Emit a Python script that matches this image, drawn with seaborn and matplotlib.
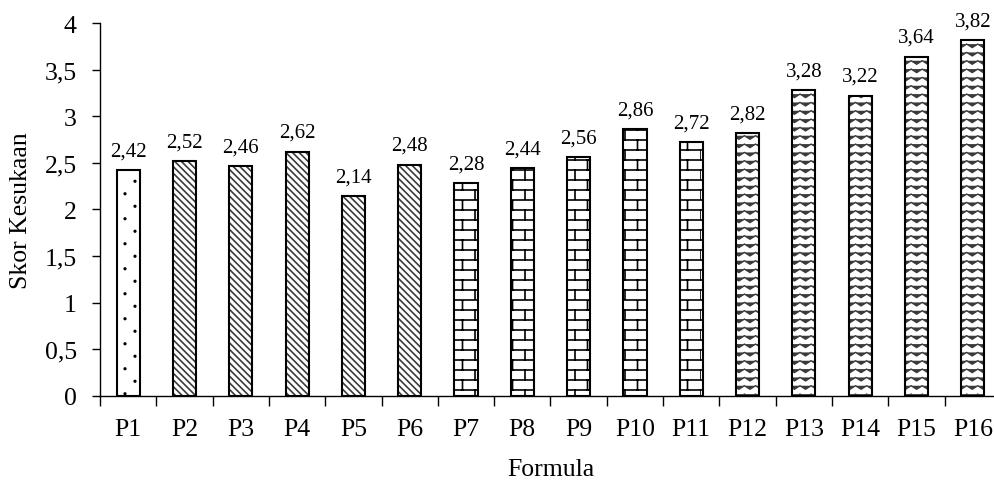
import numpy as np
import pandas as pd
import matplotlib
matplotlib.use("Agg")
import matplotlib.pyplot as plt
import matplotlib.hatch as mhatch
import matplotlib.colors as mcolors
from matplotlib.path import Path
from matplotlib.ticker import FuncFormatter, MultipleLocator, FixedLocator
import seaborn as sns

# data
formula = ["P1", "P2", "P3", "P4", "P5", "P6", "P7", "P8",
           "P9", "P10", "P11", "P12", "P13", "P14", "P15", "P16"]
scores = [2.42, 2.52, 2.46, 2.62, 2.14, 2.48, 2.28, 2.44,
          2.56, 2.86, 2.72, 2.82, 3.28, 3.22, 3.64, 3.82]


# --- custom hatch patterns: bricks ('O'), zigzag ('o'), sparse dots ('*') ---
class BrickHatch(mhatch.HatchPatternBase):
    def __init__(self, hatch, density):
        self.rows = 10 * hatch.count('O')
        self.cols = 4
        if self.rows:
            self.num_vertices = ((self.rows + 1) + self.rows * self.cols) * 2
        else:
            self.num_vertices = 0

    def set_vertices_and_codes(self, vertices, codes):
        h = 1.0 / self.rows
        w = 1.0 / self.cols
        segs = []
        for i in range(self.rows + 1):
            segs.append([(0.0, i * h), (1.0, i * h)])
        for i in range(self.rows):
            off = (i % 2) * w / 2
            for j in range(self.cols):
                x = off + j * w
                segs.append([(x, i * h), (x, (i + 1) * h)])
        vertices[:] = np.array(segs).reshape(-1, 2)
        codes[0::2] = Path.MOVETO
        codes[1::2] = Path.LINETO


class ZigzagHatch(mhatch.HatchPatternBase):
    def __init__(self, hatch, density):
        self.rows = 12 * hatch.count('o')
        self.waves = 9
        self.npts = self.waves * 2 + 1
        self.num_vertices = self.rows * self.npts if self.rows else 0

    def set_vertices_and_codes(self, vertices, codes):
        xs = np.linspace(0, 1, self.npts)
        amp = 0.42 / self.rows
        k = 0
        for i in range(self.rows):
            base = (i + 0.5) / self.rows
            ys = base + np.where(np.arange(self.npts) % 2 == 0, amp / 2, -amp / 2)
            vertices[k:k + self.npts, 0] = xs
            vertices[k:k + self.npts, 1] = ys
            codes[k] = Path.MOVETO
            codes[k + 1:k + self.npts] = Path.LINETO
            k += self.npts


class DotHatch(mhatch.HatchPatternBase):
    def __init__(self, hatch, density):
        n = hatch.count('*')
        self.cols = 10 * n
        self.rows = 8 * n
        circ = Path.unit_circle()
        self.shape_vertices = circ.vertices
        self.shape_codes = circ.codes
        self.ndots = (self.cols * self.rows) // 2 if n else 0
        self.num_vertices = self.ndots * len(circ.vertices)

    def set_vertices_and_codes(self, vertices, codes):
        r = 0.009
        nv = len(self.shape_vertices)
        k = 0
        for j in range(self.rows):
            for i in range(self.cols):
                if (i + j) % 2:
                    continue
                cx = (i + 0.5) / self.cols
                cy = (j + 0.5) / self.rows
                vertices[k:k + nv] = self.shape_vertices * r + (cx, cy)
                codes[k:k + nv] = self.shape_codes
                k += nv


mhatch._hatch_types[:] = [t for t in mhatch._hatch_types
                          if t not in (mhatch.SmallCircles, mhatch.LargeCircles,
                                       mhatch.Stars)]
mhatch._hatch_types += [BrickHatch, ZigzagHatch, DotHatch]

sns.set_theme(style="white")
plt.rcParams['font.family'] = ['Liberation Serif', 'DejaVu Serif']
plt.rcParams['text.color'] = 'black'
plt.rcParams['axes.labelcolor'] = 'black'
plt.rcParams['hatch.linewidth'] = 1.1
plt.rcParams['hatch.color'] = 'black'

df = pd.DataFrame({'Formula': formula, 'Skor': scores})

fig = plt.figure(figsize=(9.95, 4.81), dpi=100)
ax = fig.add_axes([100 / 995, 84.3 / 481, 901 / 995, 372.7 / 481])

sns.barplot(data=df, x='Formula', y='Skor', color='white', saturation=1,
            edgecolor='black', linewidth=1.5, width=0.41, errorbar=None, ax=ax)

# hatch, hatch colour, hatch linewidth per bar group
styles = ([('*', 'black', 1.0)] + [('\\' * 5, '#3a3a3a', 1.2)] * 5
          + [('O', 'black', 1.2)] * 5 + [('o', '#3a3a3a', 1.0)] * 5)
for patch, (h, hc, hlw) in zip(ax.patches, styles):
    patch.set_hatch(h)
    patch._hatch_color = mcolors.to_rgba(hc)
    if hasattr(patch, 'set_hatch_linewidth'):
        patch.set_hatch_linewidth(hlw)
    else:
        patch._hatch_linewidth = hlw

ax.bar_label(ax.containers[0],
             labels=[f"{v:.2f}".replace('.', ',') for v in scores],
             padding=7, fontsize=15, color='black')

ax.set_xlim(-0.5, 15.5)
ax.set_ylim(0, 4)
ax.yaxis.set_major_locator(MultipleLocator(0.5))
ax.yaxis.set_major_formatter(FuncFormatter(lambda v, p: f"{v:g}".replace('.', ',')))
ax.xaxis.set_minor_locator(FixedLocator(np.arange(-0.5, 16, 1)))

ax.tick_params(axis='x', which='major', bottom=False, length=0, pad=16,
               labelsize=18.5, labelcolor='black')
ax.tick_params(axis='x', which='minor', bottom=True, length=7, width=1,
               color='black', direction='out')
ax.tick_params(axis='y', which='major', left=True, length=6, width=1,
               color='black', direction='out', pad=10.8, labelsize=18.5,
               labelcolor='black')

sns.despine(ax=ax)
for side in ['left', 'bottom']:
    ax.spines[side].set_color('black')
    ax.spines[side].set_linewidth(1.0)

ax.set_ylabel('Skor Kesukaan', fontsize=18.5)
ax.set_xlabel('Formula', fontsize=18.5)
ax.yaxis.set_label_coords(-0.075, 0.5)
ax.xaxis.set_label_coords(0.5, -0.168)

fig.savefig('out.png', dpi=100, facecolor='white')
plt.close(fig)
